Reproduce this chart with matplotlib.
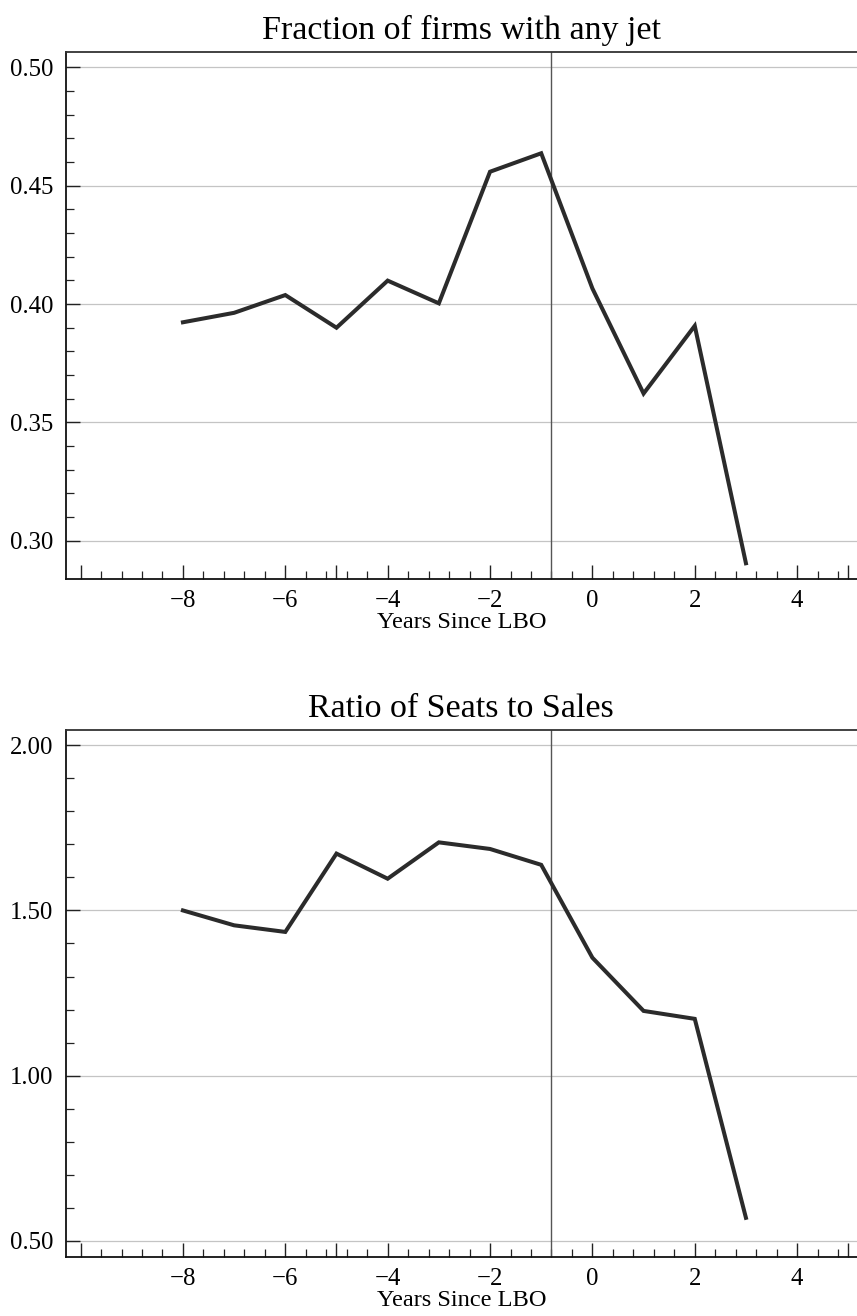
import numpy as np
import matplotlib
matplotlib.use("Agg")
import matplotlib.pyplot as plt
from matplotlib.ticker import FixedLocator, FixedFormatter

plt.rcParams['font.family'] = ['Liberation Serif', 'DejaVu Serif']
plt.rcParams['axes.unicode_minus'] = True

years = [-8, -7, -6, -5, -4, -3, -2, -1, 0, 1, 2, 3]
frac_jet = [0.3923, 0.3963, 0.4038, 0.3900, 0.4099, 0.4003, 0.4559, 0.4637, 0.4066, 0.3622, 0.3908, 0.2905]
seats_sales = [1.500, 1.455, 1.435, 1.672, 1.596, 1.706, 1.686, 1.638, 1.357, 1.196, 1.172, 0.570]

titles = ["Fraction of firms with any jet", "Ratio of Seats to Sales"]
xlabel = "Years Since LBO"
x_major_labeled = [-8, -6, -4, -2, 0, 2, 4]
x_major_extra = [-10, -5, 5]
lbo_line = -0.8

top_yticks = [0.30, 0.35, 0.40, 0.45, 0.50]
bot_yticks = [0.50, 1.00, 1.50, 2.00]

fig = plt.figure(figsize=(8.57, 13.16), dpi=100)
ax1 = fig.add_axes([0.0767, 0.5603, 0.9233, 0.4004])
ax2 = fig.add_axes([0.0767, 0.0451, 0.9233, 0.4002])

line_color = '#2b2b2b'

def style(ax, yvals, yticks, yminor_step, ylim, title):
    ax.set_xlim(-10.29, 5.17)
    ax.set_ylim(*ylim)
    ax.plot(years, yvals, color=line_color, lw=2.9, solid_joinstyle='miter', zorder=3)
    ax.axvline(lbo_line, color='#555555', lw=1.0, zorder=2)
    for yt in yticks:
        ax.axhline(yt, color='#c4c4c4', lw=0.9, zorder=1)
    xt = sorted(x_major_labeled + x_major_extra)
    labels = [("\u2212%d" % -v if v < 0 else "%d" % v) if v in x_major_labeled else "" for v in xt]
    ax.xaxis.set_major_locator(FixedLocator(xt))
    ax.xaxis.set_major_formatter(FixedFormatter(labels))
    minor_x = [v for v in np.round(np.arange(-10, 5.2, 0.4), 2) if v not in xt]
    ax.xaxis.set_minor_locator(FixedLocator(minor_x))
    ax.yaxis.set_major_locator(FixedLocator(yticks))
    ax.set_yticklabels(["%.2f" % v for v in yticks])
    ymin_ticks = [v for v in np.round(np.arange(yticks[0], yticks[-1] + 1e-9, yminor_step), 3)
                  if not any(abs(v - t) < 1e-9 for t in yticks)]
    ax.yaxis.set_minor_locator(FixedLocator(ymin_ticks))
    ax.tick_params(axis='both', which='major', direction='in', length=10, width=1.0,
                   labelsize=17.8, color='#222222')
    ax.tick_params(axis='both', which='minor', direction='in', length=5.5, width=0.9,
                   color='#222222')
    ax.tick_params(axis='x', which='major', pad=8)
    ax.tick_params(axis='y', which='major', pad=9)
    ax.spines['right'].set_visible(False)
    for s in ['left', 'bottom', 'top']:
        ax.spines[s].set_linewidth(1.3)
        ax.spines[s].set_color('#111111')
    ax.spines['top'].set_color('#333333')
    ax.set_title(title, fontsize=24.5, pad=9)
    ax.set_xlabel(xlabel, fontsize=17.6, labelpad=0)

style(ax1, frac_jet, top_yticks, 0.01, (0.2840, 0.5066), titles[0])
style(ax2, seats_sales, bot_yticks, 0.1, (0.4525, 2.046), titles[1])

fig.savefig("out.png", dpi=100)
